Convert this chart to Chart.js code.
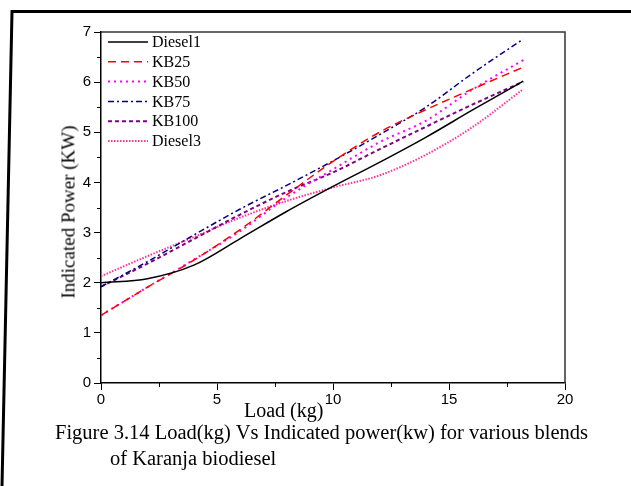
<!DOCTYPE html>
<html><head><meta charset="utf-8">
<script src="https://cdn.jsdelivr.net/npm/chart.js@4"></script>
<style>
html,body{margin:0;padding:0;background:#fff;}
#wrap{position:relative;width:631px;height:486px;overflow:hidden;background:#fff;}
canvas{position:absolute;left:0;top:0;}
.t{position:absolute;font-family:"Liberation Serif","Times New Roman",serif;color:#000;white-space:nowrap;line-height:1;}
#yt{left:68px;top:212px;transform:translate(-50%,-50%) rotate(-90deg);font-size:19px;}
</style></head><body>
<div id="wrap">
<canvas id="c" width="631" height="486"></canvas>
<div class="t" id="yt">Indicated Power (KW)</div>
<div class="t" style="left:244px;top:400px;font-size:20px;">Load (kg)</div>
<div class="t" style="left:55px;top:422px;font-size:20.5px;">Figure 3.14 Load(kg) Vs Indicated power(kw) for various blends</div>
<div class="t" style="left:110px;top:448px;font-size:20.5px;">of Karanja biodiesel</div>
</div>
<script>
// ---- data ----
const loads   = [0, 2, 4, 6, 8, 10, 12, 14, 16, 18.2];
const diesel1 = [2.00, 2.08, 2.35, 2.88, 3.42, 3.92, 4.40, 4.90, 5.44, 6.02];
const kb25    = [1.35, 1.91, 2.45, 3.06, 3.75, 4.42, 5.00, 5.45, 5.86, 6.30];
const kb50    = [1.35, 1.91, 2.46, 3.03, 3.70, 4.26, 4.80, 5.23, 5.85, 6.44];
const kb75    = [1.92, 2.42, 2.95, 3.47, 3.94, 4.43, 4.95, 5.50, 6.17, 6.86];
const kb100   = [1.92, 2.38, 2.87, 3.36, 3.81, 4.20, 4.66, 5.11, 5.55, 6.01];
const diesel3 = [2.13, 2.53, 2.91, 3.30, 3.63, 3.90, 4.14, 4.55, 5.10, 5.86];
const seriesNames = ['Diesel1', 'KB25', 'KB50', 'KB75', 'KB100', 'Diesel3'];
const xTickValues = [0, 5, 10, 15, 20];
const yTickValues = [0, 1, 2, 3, 4, 5, 6, 7];

const seriesValues = [diesel1, kb25, kb50, kb75, kb100, diesel3];
const styles = [
  {color:'#000000', dash:[], width:1.5},
  {color:'#ff0000', dash:[8,5], width:1.5},
  {color:'#ff00ff', dash:[2,4], width:2},
  {color:'#000080', dash:[6,3,2,3], width:1.5},
  {color:'#800080', dash:[4,3], width:2},
  {color:'#ff3399', dash:[1.5,1.5], width:2}
];

const datasets = seriesNames.map((name, i) => ({
  label: name,
  data: loads.map((x, j) => ({x: x, y: seriesValues[i][j]})),
  borderColor: styles[i].color,
  borderDash: styles[i].dash,
  borderWidth: styles[i].width,
  pointRadius: 0,
  fill: false,
  cubicInterpolationMode: 'monotone'
}));

const tickFont = {family: '"Liberation Sans", Arial, sans-serif', size: 15};

const decor = {
  id: 'decor',
  afterDraw(chart) {
    const ctx = chart.ctx, a = chart.chartArea;
    const xs = chart.scales.x, ys = chart.scales.y;
    ctx.save();
    // plot frame
    ctx.strokeStyle = '#333';
    ctx.lineWidth = 1.5;
    ctx.setLineDash([]);
    ctx.beginPath();
    ctx.moveTo(a.left, a.top); ctx.lineTo(a.right, a.top); ctx.lineTo(a.right, a.bottom);
    ctx.stroke();
    // minor ticks
    ctx.strokeStyle = '#000';
    ctx.lineWidth = 1;
    ctx.beginPath();
    for (let i = 0; i < xTickValues.length - 1; i++) {
      const v = (xTickValues[i] + xTickValues[i+1]) / 2;
      const px = Math.round(xs.getPixelForValue(v)) + 0.5;
      ctx.moveTo(px, a.bottom); ctx.lineTo(px, a.bottom + 4);
    }
    for (let i = 0; i < yTickValues.length - 1; i++) {
      const v = (yTickValues[i] + yTickValues[i+1]) / 2;
      const py = Math.round(ys.getPixelForValue(v)) + 0.5;
      ctx.moveTo(a.left - 4, py); ctx.lineTo(a.left, py);
    }
    ctx.stroke();
    // legend
    ctx.font = '16px "Liberation Serif", "Times New Roman", serif';
    ctx.textBaseline = 'middle';
    ctx.fillStyle = '#000';
    chart.data.datasets.forEach((ds, i) => {
      const y = 42 + i * 19.8;
      ctx.strokeStyle = ds.borderColor;
      ctx.lineWidth = ds.borderWidth;
      ctx.setLineDash(ds.borderDash);
      ctx.beginPath();
      ctx.moveTo(108, y); ctx.lineTo(148, y);
      ctx.stroke();
      ctx.fillText(ds.label, 152, y + 1);
    });
    // outer figure frame
    ctx.setLineDash([]);
    ctx.strokeStyle = '#000';
    ctx.lineWidth = 3;
    ctx.beginPath();
    ctx.moveTo(631, 11.5); ctx.lineTo(12, 11.5); ctx.lineTo(2, 486);
    ctx.stroke();
    ctx.restore();
  }
};

new Chart(document.getElementById('c'), {
  type: 'line',
  data: {datasets: datasets},
  options: {
    responsive: false,
    animation: false,
    layout: {padding: {left: 0, right: 66, top: 32, bottom: 0}},
    plugins: {legend: {display: false}, tooltip: {enabled: false}},
    scales: {
      x: {
        type: 'linear', min: 0, max: 20,
        afterBuildTicks(s) { s.ticks = xTickValues.map(v => ({value: v})); },
        afterFit(s) { s.height = 103; },
        ticks: {font: tickFont, color: '#000', padding: 1, maxRotation: 0},
        grid: {drawOnChartArea: false, drawTicks: true, tickLength: 7, tickColor: '#000', tickWidth: 1},
        border: {display: true, color: '#000', width: 1.5}
      },
      y: {
        type: 'linear', min: 0, max: 7,
        afterBuildTicks(s) { s.ticks = yTickValues.map(v => ({value: v})); },
        afterFit(s) { s.width = 101; },
        ticks: {font: tickFont, color: '#000', padding: 3},
        grid: {drawOnChartArea: false, drawTicks: true, tickLength: 7, tickColor: '#000', tickWidth: 1},
        border: {display: true, color: '#000', width: 1.5}
      }
    }
  },
  plugins: [decor]
});
</script>
</body></html>
